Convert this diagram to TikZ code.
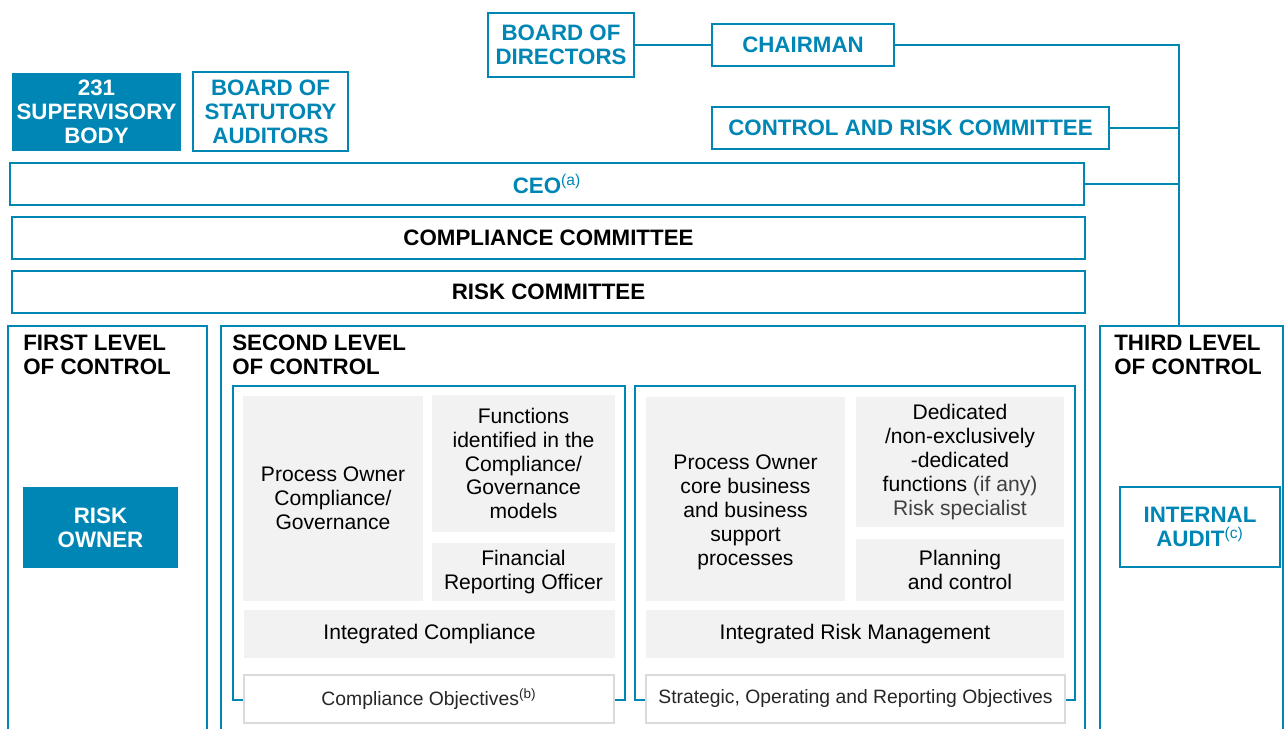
\documentclass[tikz,border=0pt]{standalone}
\usepackage{fontspec}
\setmainfont{Liberation Sans}
\usepackage{tikz}

\definecolor{ctrlblue}{RGB}{0,134,181}
\definecolor{cellgrey}{RGB}{242,242,242}
\definecolor{objgrey}{RGB}{218,218,218}
\newcommand{\hdfont}{\fontsize{12.7}{13.6}\selectfont\bfseries}
\newcommand{\bdfont}{\fontsize{12}{13.6}\selectfont}
\newcommand{\objfont}{\fontsize{11}{13}\selectfont}
% box from its corners, in pixels of the layout
\newcommand{\pxbox}[7]{\node[#1,minimum width={(#5-#3)*0.02cm},minimum height={(#6-#4)*0.02cm}]
    (#2) at ({(#3+#5)/2},{(#4+#6)/2}) {#7};}

\begin{document}
\begin{tikzpicture}[x=0.02cm,y=-0.02cm,
    bluebox/.style={draw=ctrlblue,line width=1pt,inner sep=0pt,align=center,text=ctrlblue,font=\hdfont},
    solidbox/.style={fill=ctrlblue,inner sep=0pt,align=center,text=white,font=\hdfont},
    levelbox/.style={draw=ctrlblue,line width=1pt,inner sep=0pt},
    cell/.style={fill=cellgrey,inner sep=0pt,align=center,font=\bdfont},
    objbox/.style={draw=objgrey,fill=white,line width=0.8pt,inner sep=0pt,align=center,text=black!85,font=\objfont},
    title/.style={anchor=north west,align=left,inner sep=0pt,font=\hdfont},
    link/.style={draw=ctrlblue,line width=1pt}]

    \useasboundingbox (0,0) rectangle (1285,729);

    % Board and chairman
    \pxbox{bluebox}{bod}{488}{13}{634}{77}{BOARD OF\\DIRECTORS}
    \pxbox{bluebox}{chair}{712}{24}{894}{66}{CHAIRMAN}
    \pxbox{bluebox}{crc}{712}{107}{1109}{149}{CONTROL AND RISK COMMITTEE}

    % Supervisory bodies
    \pxbox{solidbox}{odv}{12}{73}{181}{151}{231\\SUPERVISORY\\BODY}
    \pxbox{bluebox}{bsa}{193}{72}{348}{151}{BOARD OF\\STATUTORY\\AUDITORS}

    % CEO and committees
    \pxbox{bluebox}{ceo}{10}{163}{1084}{205}{CEO\textsuperscript{\mdseries(a)}}
    \pxbox{bluebox,text=black}{cc}{12}{217}{1085}{259}{COMPLIANCE COMMITTEE}
    \pxbox{bluebox,text=black}{rc}{12}{271}{1085}{313}{RISK COMMITTEE}

    % The three levels
    \pxbox{levelbox}{lvl1}{8}{326}{207}{760}{}
    \pxbox{levelbox}{lvl2}{221}{326}{1085}{760}{}
    \pxbox{levelbox}{lvl3}{1100}{326}{1283}{760}{}
    \node[title] (lvl1t) at (23,335) {FIRST LEVEL\\OF CONTROL};
    \node[title] (lvl2t) at (232,335) {SECOND LEVEL\\OF CONTROL};
    \node[title] (lvl3t) at (1114,335) {THIRD LEVEL\\OF CONTROL};

    \pxbox{solidbox}{owner}{23}{487}{178}{568}{RISK\\OWNER}
    \pxbox{bluebox}{audit}{1120}{487}{1280}{567}{INTERNAL\\AUDIT\textsuperscript{\mdseries(c)}}

    % Compliance side
    \pxbox{levelbox}{cmpl}{233}{386}{625}{700}{}
    \pxbox{cell}{po1}{243}{396}{423}{601}{Process Owner\\Compliance/\\Governance}
    \pxbox{cell}{func}{432}{395}{615}{532}{Functions\\identified in the\\Compliance/\\Governance\\models}
    \pxbox{cell}{fro}{432}{543}{615}{601}{Financial\\Reporting Officer}
    \pxbox{cell}{ic}{244}{610}{615}{658}{Integrated Compliance}
    \pxbox{objbox}{cobj}{244}{675}{614}{723}{Compliance Objectives\textsuperscript{(b)}}

    % Risk side
    \pxbox{levelbox}{risk}{635}{386}{1075}{700}{}
    \pxbox{cell}{po2}{646}{397}{845}{601}{\begin{tabular}{@{}c@{}}\rule{0pt}{25pt}Process Owner\\core business\\and business\\support\\processes\end{tabular}}
    \pxbox{cell}{ded}{856}{397}{1064}{527}{Dedicated\\/non-exclusively\\-dedicated\\functions {\color{black!75}(if any)}\\{\color{black!75}Risk specialist}}
    \pxbox{cell}{plan}{856}{539}{1064}{601}{Planning\\and control}
    \pxbox{cell}{irm}{646}{610}{1064}{658}{Integrated Risk Management}
    \pxbox{objbox}{sobj}{646}{675}{1065}{723}{Strategic, Operating and Reporting Objectives}

    % Reporting lines
    \coordinate (spine) at (1179,326);
    \draw[link] (bod) -- (chair);
    \draw[link] (chair.east) -| (spine);
    \draw[link] (crc.east) -- (crc.east -| spine);
    \draw[link] (ceo.east) -- (ceo.east -| spine);
\end{tikzpicture}
\end{document}
